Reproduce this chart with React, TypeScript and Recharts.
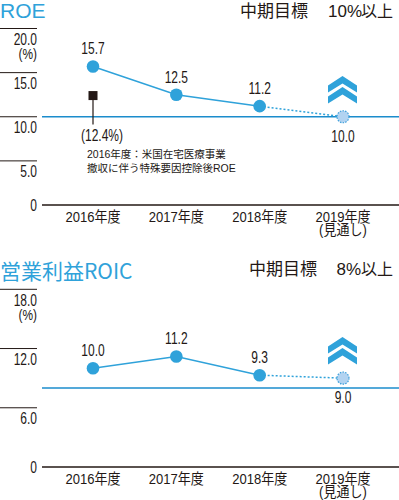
import React from 'react';
import { LineChart, Line, XAxis, YAxis, ReferenceLine } from 'recharts';

const categories = ['2016年度', '2017年度', '2018年度', '2019年度\n(見通し)'];

const roeActual = [15.7, 12.5, 11.2, null];
const roeForecast = [null, null, 11.2, 10.0];
const roeAdjusted = [12.4, null, null, null];
const roeTarget = 10;
const roeTicks = [0, 5, 10, 15, 20];

const roicActual = [10.0, 11.2, 9.3, null];
const roicForecast = [null, null, 9.3, 9.0];
const roicTarget = 8;
const roicTicks = [0, 6, 12, 18];

const LIB = "'Liberation Sans', Arial, sans-serif";
const MIX = "'Liberation Sans', 'Noto Sans CJK JP', sans-serif";
const CJK = "'Noto Sans CJK JP', sans-serif";
const BLUE = '#2fa2da';
const TARGET_BLUE = '#1b8ccc';
const TEXT = '#231815';

const makeData = (actual: any[], forecast: any[], adjusted?: any[]) =>
  categories.map((c, i) => ({
    cat: c,
    actual: actual[i],
    forecast: forecast[i],
    adjusted: adjusted ? adjusted[i] : null,
  }));

const roeData = makeData(roeActual, roeForecast, roeAdjusted);
const roicData = makeData(roicActual, roicForecast);

const NText = ({ x, y, anchor = 'start', size = 16, sx = 0.75, family = LIB, children }: any) => (
  <text
    transform={`translate(${x},${y}) scale(${sx},1)`}
    x={0}
    y={0}
    textAnchor={anchor}
    fontSize={size}
    fontFamily={family}
    fill={TEXT}
  >
    {children}
  </text>
);

const makeYTick = (max: number) => (props: any) => {
  const { y, payload } = props;
  const v = payload.value;
  if (v === 0) {
    return <NText x={37} y={y + 5.5} anchor="end">0</NText>;
  }
  return (
    <g>
      <line x1={0} x2={37} y1={y} y2={y} stroke={TEXT} strokeWidth={1} />
      <NText x={37} y={y + 16.5} anchor="end">{v.toFixed(1)}</NText>
      {v === max && (
        <NText x={37} y={y + 30.5} anchor="end" size={14} sx={0.85}>(%)</NText>
      )}
    </g>
  );
};

const XTick = (props: any) => {
  const { x, y, payload } = props;
  const lines = String(payload.value).split('\n');
  return (
    <g>
      {lines.map((l, i) => (
        <NText key={i} x={x} y={y + 16.5 + i * 13.5} anchor="middle" size={14.5} sx={0.9} family={MIX}>
          {l}
        </NText>
      ))}
    </g>
  );
};

const ActualDot = (props: any) => {
  const { cx, cy, payload, index } = props;
  const v = payload ? payload.actual : null;
  if (v == null || cx == null || cy == null) return <g key={`a${index}`} />;
  return (
    <g key={`a${index}`}>
      <circle cx={cx} cy={cy} r={6.3} fill={BLUE} stroke="none" />
      <NText x={cx} y={cy - 12} anchor="middle">{v.toFixed(1)}</NText>
    </g>
  );
};

const ForecastDot = (props: any) => {
  const { cx, cy, payload, index } = props;
  const v = payload ? payload.forecast : null;
  if (v == null || cx == null || cy == null || index !== 3) return <g key={`f${index}`} />;
  return (
    <g key={`f${index}`}>
      <circle cx={cx} cy={cy} r={6} fill="#b2d3f1" stroke="#3d9fdb" strokeWidth={1.2} strokeDasharray="1.5 1.2" />
      <NText x={cx} y={cy + 25} anchor="middle">{v.toFixed(1)}</NText>
    </g>
  );
};

const AdjustedDot = (props: any) => {
  const { cx, cy, payload, index } = props;
  const v = payload ? payload.adjusted : null;
  if (v == null || cx == null || cy == null) return <g key={`j${index}`} />;
  return (
    <g key={`j${index}`}>
      <rect x={cx - 4.5} y={cy - 4.5} width={9} height={9} fill={TEXT} />
      <line x1={cx} x2={cx} y1={cy + 4} y2={cy + 29} stroke={TEXT} strokeWidth={1.2} />
      <NText x={cx - 12} y={cy + 45}>{`(${v.toFixed(1)}%)`}</NText>
      <text x={cx - 6} y={cy + 62} fontSize={10.5} fill={TEXT} fontFamily={MIX}>
        2016年度：米国在宅医療事業
      </text>
      <text x={cx - 6} y={cy + 76} fontSize={10.5} fill={TEXT} fontFamily={MIX}>
        撤収に伴う特殊要因控除後ROE
      </text>
    </g>
  );
};

const Chevron = ({ x, y }: { x: number; y: number }) => (
  <g transform={`translate(${x},${y})`} fill={BLUE}>
    <path d="M14.5,0 L29,9.5 L29,16.5 L14.5,7.5 L0,16.5 L0,9.5 Z" />
    <path d="M14.5,11 L29,20.5 L29,27.5 L14.5,18.5 L0,27.5 L0,20.5 Z" />
  </g>
);

const Panel = ({ data, ticks, max, target, height, marginTop, xHeight, withAdjusted }: any) => (
  <LineChart
    width={399}
    height={height}
    data={data}
    margin={{ top: marginTop, right: 0, left: 0, bottom: 0 }}
  >
    <XAxis
      dataKey="cat"
      scale="point"
      padding={{ left: 51, right: 56 }}
      axisLine={{ stroke: TEXT, strokeWidth: 1.5 }}
      tickLine={false}
      tickSize={0}
      tickMargin={0}
      height={xHeight}
      interval={0}
      tick={<XTick />}
    />
    <YAxis
      type="number"
      domain={[0, max]}
      ticks={ticks}
      width={42}
      axisLine={false}
      tickLine={false}
      tickSize={0}
      tickMargin={0}
      interval={0}
      tick={makeYTick(max)}
    />
    <ReferenceLine y={target} stroke={TARGET_BLUE} strokeWidth={1.5} />
    <Line
      dataKey="forecast"
      stroke={BLUE}
      strokeWidth={1.5}
      strokeDasharray="2 2"
      dot={ForecastDot}
      activeDot={false}
      connectNulls={false}
      isAnimationActive={false}
    />
    <Line
      dataKey="actual"
      stroke={BLUE}
      strokeWidth={1.5}
      dot={ActualDot}
      activeDot={false}
      isAnimationActive={false}
    />
    {withAdjusted && (
      <Line dataKey="adjusted" stroke="none" dot={AdjustedDot} activeDot={false} isAnimationActive={false} />
    )}
  </LineChart>
);

export default function App() {
  return (
    <div style={{ position: 'absolute', left: 0, top: 0, width: 399, height: 500, background: '#fff' }}>
      <div style={{ position: 'absolute', left: 0, top: 0 }}>
        <Panel data={roeData} ticks={roeTicks} max={20} target={roeTarget} height={245} marginTop={28.5} xHeight={40} withAdjusted />
      </div>
      <div style={{ position: 'absolute', left: 0, top: 250 }}>
        <Panel data={roicData} ticks={roicTicks} max={18} target={roicTarget} height={250} marginTop={39.3} xHeight={33} />
      </div>
      <svg width={399} height={500} style={{ position: 'absolute', left: 0, top: 0, pointerEvents: 'none' }}>
        <text x={0} y={18} fontSize={21} fill={BLUE} fontFamily={LIB}>ROE</text>
        <text x={240} y={17} fontSize={17} fill={TEXT} fontFamily={CJK}>中期目標</text>
        <text x={362} y={17} fontSize={17} fill={TEXT} fontFamily={LIB} textAnchor="end">10%</text>
        <text x={393} y={17} fontSize={16} fill={TEXT} fontFamily={CJK} textAnchor="end">以上</text>
        <Chevron x={328} y={76} />
        <text x={0} y={279} fontSize={21} fill={BLUE} fontFamily={CJK}>営業利益ROIC</text>
        <text x={249} y={275} fontSize={17} fill={TEXT} fontFamily={CJK}>中期目標</text>
        <text x={361} y={275} fontSize={17} fill={TEXT} fontFamily={LIB} textAnchor="end">8%</text>
        <text x={393} y={275} fontSize={16} fill={TEXT} fontFamily={CJK} textAnchor="end">以上</text>
        <Chevron x={328} y={337} />
      </svg>
    </div>
  );
}
